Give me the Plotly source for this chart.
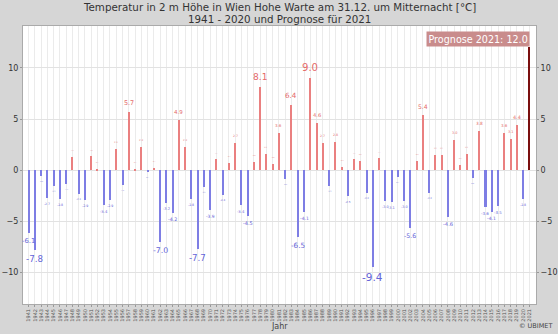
import plotly.graph_objects as go

years = list(range(1941, 2022))
temps = [
    -6.1, -7.8, -0.6, -2.7, -1.5, -2.8, -1.3, 1.3, -2.3, -2.9,   # 1941-1950
    1.4, 0.1, -3.4, -2.9, 2.1, -1.4, 5.7, 0.1, 2.3, -0.2,        # 1951-1960
    0.2, -7.0, -3.2, -4.2, 4.9, 2.3, -2.8, -7.7, -1.6, -3.9,     # 1961-1970
    1.1, -2.4, 0.7, 2.7, -3.4, -4.5, 0.8, 8.1, 1.6, 0.6,         # 1971-1980
    3.6, -0.9, 6.4, -6.5, -4.1, 9.0, 4.6, 2.7, -1.5, 2.8,        # 1981-1990
    0.3, -2.5, 1.1, 0.9, -2.2, -9.4, 1.2, -3.0, -3.1, -0.7,      # 1991-2000
    -3.0, -5.6, 0.9, 5.4, -2.2, 1.5, 1.5, -4.6, 3.0, 0.5,        # 2001-2010
    1.6, -0.8, 3.8, -3.6, -4.1, -3.5, 3.6, 3.1, 4.4, -2.8,       # 2011-2020
    12.0,                                                        # 2021 Prognose
]
title_lines = ["Temperatur in 2 m Höhe in Wien Hohe Warte am 31.12. um Mitternacht [°C]",
               "1941 - 2020 und Prognose für 2021"]
y_ticks = [-10, -5, 0, 5, 10]
prognose_text = "Prognose 2021: 12.0"

POS_BAR = "#ea8080"
NEG_BAR = "#7e7ee4"
POS_TXT = "#e46a6a"
NEG_TXT = "#6464d8"
PROG_BAR = "#7a0f0f"
FONT = "DejaVu Sans"

colors = []
for y, v in zip(years, temps):
    if y == 2021:
        colors.append(PROG_BAR)
    else:
        colors.append(POS_BAR if v >= 0 else NEG_BAR)

fig = go.Figure()
fig.add_trace(go.Bar(x=years, y=temps, marker_color=colors, marker_line_width=0,
                     width=0.32, showlegend=False, hoverinfo="x+y"))
fig.add_trace(go.Scatter(x=[years[0]], y=[0], yaxis="y2", mode="markers",
                         marker=dict(opacity=0), showlegend=False, hoverinfo="skip"))

annotations = []
for y, v in zip(years[:-1], temps[:-1]):
    size = max(1.5, 1.12 * abs(v))
    if v >= 0:
        annotations.append(dict(x=y, y=v, xref="x", yref="y", text=f"{v:.1f}",
                                showarrow=False, yanchor="bottom", yshift=3,
                                font=dict(size=size, color=POS_TXT, family=FONT)))
    else:
        annotations.append(dict(x=y, y=v, xref="x", yref="y", text=f"{v:.1f}",
                                showarrow=False, yanchor="top", yshift=-2,
                                font=dict(size=size, color=NEG_TXT, family=FONT)))

# title lines (pixel-placed above the plot area)
annotations.append(dict(x=0.5, y=1, xref="paper", yref="paper", yshift=19,
                        text=title_lines[0], showarrow=False, xanchor="center",
                        yanchor="middle", font=dict(size=10.3, color="#333", family=FONT)))
annotations.append(dict(x=0.5, y=1, xref="paper", yref="paper", yshift=7,
                        text=title_lines[1], showarrow=False, xanchor="center",
                        yanchor="middle", font=dict(size=10.3, color="#333", family=FONT)))

annotations.append(dict(x=0.989, y=0.982, xref="paper", yref="paper", text=prognose_text,
                        showarrow=False, xanchor="right", yanchor="top",
                        bgcolor="#c98c8c", borderpad=1.5,
                        font=dict(size=9.6, color="white", family=FONT)))
annotations.append(dict(x=0.5, y=0, xref="paper", yref="paper", yshift=-22,
                        text="Jahr", showarrow=False, xanchor="center", yanchor="middle",
                        font=dict(size=8, color="#444", family=FONT)))
annotations.append(dict(x=1.0, y=0, xref="paper", yref="paper", yshift=-22, xshift=18,
                        text="© UBIMET", showarrow=False, xanchor="right", yanchor="middle",
                        font=dict(size=6.5, color="#444", family=FONT)))

yr = [-13.06, 14.09]
fig.update_layout(
    width=558, height=334,
    margin=dict(l=23, r=22, t=26, b=30, autoexpand=False),
    paper_bgcolor="#d6d6d6",
    plot_bgcolor="white",
    font=dict(family=FONT, color="#333"),
    bargap=0,
    annotations=annotations,
    xaxis=dict(range=[1940.1, 2022.07], tickmode="array", tickvals=years,
               ticktext=[str(y) for y in years], tickangle=-90, automargin=False,
               tickfont=dict(size=5, color="#555"), ticks="outside", ticklen=2,
               tickcolor="#999", showgrid=True, gridcolor="#ebebeb", gridwidth=1,
               showline=True, linecolor="#aaa", linewidth=1, mirror=True,
               zeroline=False, fixedrange=True),
    yaxis=dict(range=yr, tickvals=y_ticks, tickfont=dict(size=8, color="#333"),
               showgrid=True, gridcolor="#e2e2e2", zeroline=False, automargin=False,
               showline=True, linecolor="#aaa", linewidth=1, mirror=True,
               ticks="outside", ticklen=2, tickcolor="#999"),
    yaxis2=dict(range=yr, tickvals=y_ticks, overlaying="y", side="right",
                automargin=False,
                tickfont=dict(size=8, color="#333"), showgrid=False, zeroline=False,
                ticks="outside", ticklen=2, tickcolor="#999"),
)

fig.write_html("out.html")
